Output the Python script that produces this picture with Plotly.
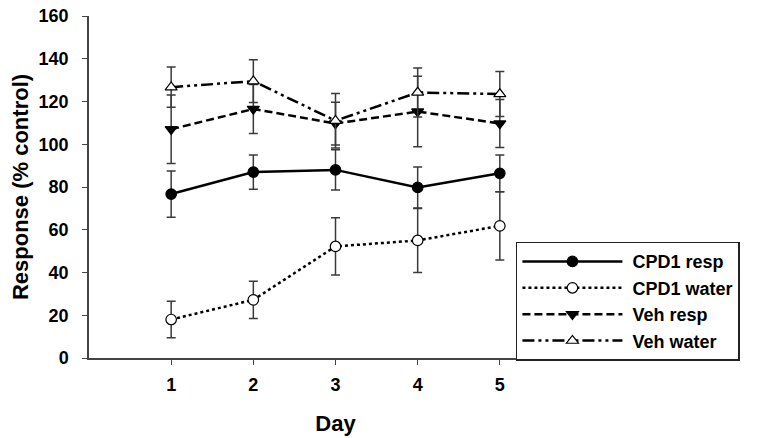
import plotly.graph_objects as go

# Data
days = [1, 2, 3, 4, 5]

cpd1_resp = [76.7, 87.0, 88.0, 79.8, 86.4]
cpd1_resp_err = [10.8, 8.0, 9.4, 9.6, 8.6]

cpd1_water = [18.0, 27.2, 52.2, 55.0, 61.8]
cpd1_water_err = [8.5, 8.7, 13.4, 15.0, 16.0]

veh_resp = [107.0, 116.5, 109.7, 115.3, 109.7]
veh_resp_err = [16.0, 11.5, 10.0, 16.5, 11.2]

veh_water = [126.7, 129.5, 111.0, 124.2, 123.5]
veh_water_err = [9.4, 10.0, 12.7, 11.5, 10.5]

y_ticks = [0, 20, 40, 60, 80, 100, 120, 140, 160]

font_family = "Liberation Sans, Arial, sans-serif"
err_color = "#3a3a3a"

series = [
    ("CPD1 resp", cpd1_resp, cpd1_resp_err, "solid", "circle", "black"),
    ("CPD1 water", cpd1_water, cpd1_water_err, "dot", "circle", "white"),
    ("Veh resp", veh_resp, veh_resp_err, "8px,4px", "triangle-down", "black"),
    ("Veh water", veh_water, veh_water_err, "12px,4px,3px,4px,3px,4px", "triangle-up", "white"),
]

fig = go.Figure()
for name, vals, errs, dash, sym, fill in series:
    fig.add_trace(go.Scatter(
        x=days, y=vals, name="\u00a0" + name, mode="lines+markers",
        line=dict(color="black", width=2.5, dash=dash),
        marker=dict(symbol=sym, size=10.5, color=fill,
                    line=dict(color="black", width=1.2)),
        error_y=dict(type="data", array=errs, visible=True,
                     color=err_color, thickness=1.5, width=4.5),
    ))

# page body has an 8px margin, so the figure is sized 750x430
fig.update_layout(
    width=750, height=430,
    margin=dict(l=81, r=176, t=8, b=80, autoexpand=False),
    paper_bgcolor="white", plot_bgcolor="white",
    font=dict(family=font_family, color="black"),
    showlegend=True,
    legend=dict(
        x=0.866, y=0.340, xanchor="left", yanchor="top",
        bgcolor="white", bordercolor="#222222", borderwidth=1.5,
        font=dict(size=18, weight="bold"),
        tracegroupgap=0, itemwidth=100,
    ),
    xaxis=dict(
        range=[0, 6], tickvals=days, ticks="outside", ticklen=5,
        showline=True, linecolor="#444444", linewidth=1.5, tickcolor="#444444",
        showgrid=False, zeroline=False, automargin=False,
        ticklabelstandoff=5,
        tickfont=dict(size=18, weight="bold"),
        title=dict(text="Day", font=dict(size=22, weight="bold"), standoff=21),
    ),
    yaxis=dict(
        range=[0, 160], tickvals=y_ticks, ticks="outside", ticklen=5,
        showline=True, linecolor="#444444", linewidth=1.5, tickcolor="#444444",
        showgrid=False, zeroline=False, automargin=False,
        ticklabelstandoff=10, ticklabeloverflow="allow",
        tickfont=dict(size=18, weight="bold"),
        title=dict(text="Response (% control)", font=dict(size=22, weight="bold"), standoff=4),
    ),
)

fig.write_html("out.html")
